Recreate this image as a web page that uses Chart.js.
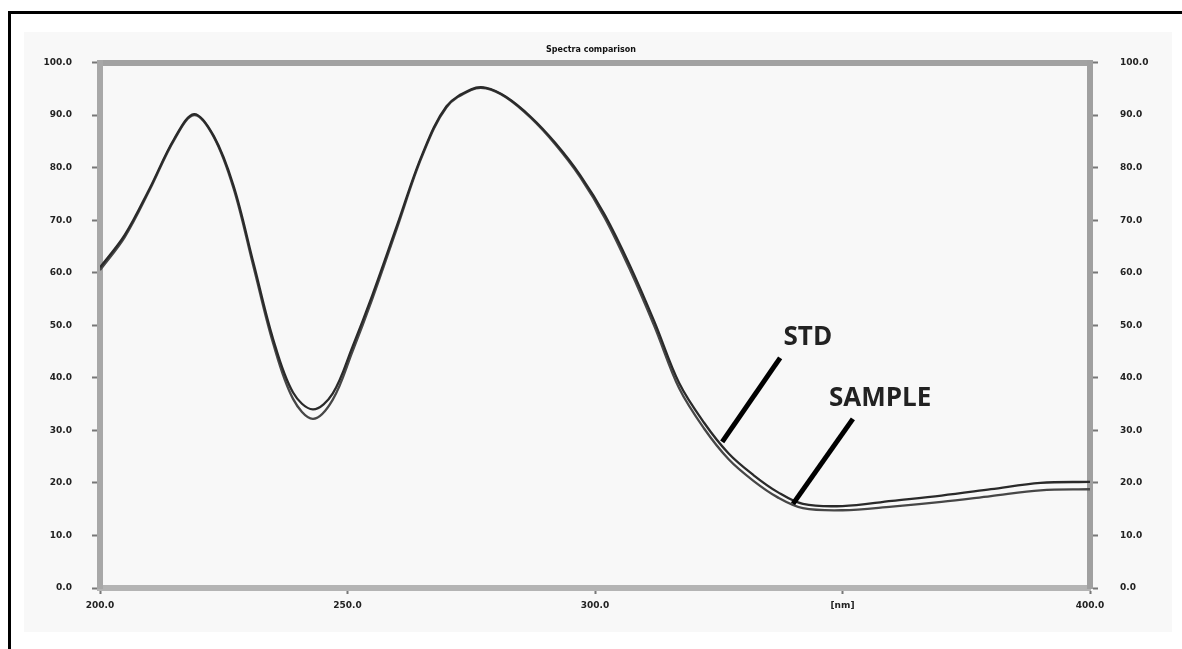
<!DOCTYPE html>
<html>
<head>
<meta charset="utf-8">
<script src="https://cdn.jsdelivr.net/npm/chart.js@4.4.1/dist/chart.umd.min.js"></script>
<style>
  html, body { margin: 0; padding: 0; background: #fff; }
  #wrap { width: 1182px; height: 649px; position: relative; }
</style>
</head>
<body>
<div id="wrap"><canvas id="specChart" width="1182" height="649"></canvas></div>
<script>
// wavelength in nm
const wavelengths = [200, 205, 210, 215, 219, 223, 227, 231, 235, 239, 243, 247, 251, 255, 260, 265, 270, 275, 278,
    282, 287, 292, 297, 302, 307, 312, 317, 322, 327, 332, 337, 342, 350, 360, 370, 380, 390, 400];
const stdValues = [61.0, 67.2, 76.0, 85.5, 90.2, 86.0, 76.5, 61.9, 47.3, 37.2, 34.0, 37.0, 45.9, 55.7, 69.0, 82.3, 91.7, 94.9, 95.2,
    93.5, 89.7, 84.7, 78.6, 71.0, 61.5, 50.7, 39.0, 31.5, 25.6, 21.5, 18.2, 16.0, 15.6, 16.6, 17.6, 18.8, 20.0, 20.2];
const sampleValues = [60.5, 66.8, 75.7, 85.3, 90.0, 85.8, 76.0, 61.2, 46.5, 36.0, 32.2, 35.8, 45.0, 55.0, 68.5, 82.0, 91.5, 94.8, 95.1,
    93.4, 89.5, 84.4, 78.2, 70.4, 60.7, 49.8, 38.0, 30.4, 24.5, 20.4, 17.2, 15.2, 14.8, 15.5, 16.4, 17.5, 18.6, 18.8];

const chartTitle = 'Spectra comparison';
const unitLabel = '[nm]';
const unitTickAt = 350;

// callouts: text position and leader line, in data units (nm, value)
const calloutNames = ['STD', 'SAMPLE'];
const calloutText = [[343.0, 47.6], [357.6, 36.0]];
const calloutFrom = [[337.4, 43.8], [352.1, 32.2]];
const calloutTo = [[325.7, 27.8], [340.0, 16.0]];

const tickFont = { family: '"DejaVu Sans"', size: 9, weight: 'bold' };

// white page, black frame and the grey panel behind the plot
const framePlugin = {
    id: 'frame',
    beforeDraw(chart) {
        const c = chart.ctx;
        c.save();
        c.fillStyle = '#ffffff';
        c.fillRect(0, 0, chart.width, chart.height);
        c.fillStyle = '#f8f8f8';
        c.fillRect(24, 32, 1148, 600);
        c.fillStyle = '#000';
        c.fillRect(8, 11, 1174, 3);
        c.fillRect(8, 11, 3, 638);
        c.restore();
    }
};

const calloutPlugin = {
    id: 'callouts',
    afterDatasetsDraw(chart) {
        const c = chart.ctx;
        const x = chart.scales.x, y = chart.scales.y;
        c.save();
        calloutNames.forEach((name, i) => {
            c.strokeStyle = '#000';
            c.lineWidth = 5;
            c.beginPath();
            c.moveTo(x.getPixelForValue(calloutFrom[i][0]), y.getPixelForValue(calloutFrom[i][1]));
            c.lineTo(x.getPixelForValue(calloutTo[i][0]), y.getPixelForValue(calloutTo[i][1]));
            c.stroke();
            c.font = 'bold 26px "Open Sans"';
            c.fillStyle = '#222';
            c.textAlign = 'center';
            c.textBaseline = 'middle';
            c.fillText(name, x.getPixelForValue(calloutText[i][0]), y.getPixelForValue(calloutText[i][1]));
        });
        c.restore();
    }
};

const ctx = document.getElementById('specChart').getContext('2d');
new Chart(ctx, {
    type: 'line',
    data: {
        datasets: [
            {
                label: 'STD',
                data: wavelengths.map((w, i) => ({ x: w, y: stdValues[i] })),
                borderColor: '#2a2a2a',
                borderWidth: 2.3,
                pointRadius: 0,
                tension: 0.35
            },
            {
                label: 'SAMPLE',
                data: wavelengths.map((w, i) => ({ x: w, y: sampleValues[i] })),
                borderColor: '#474747',
                borderWidth: 2.3,
                pointRadius: 0,
                tension: 0.35
            }
        ]
    },
    options: {
        responsive: false,
        animation: false,
        layout: { padding: 0 },
        plugins: {
            legend: { display: false },
            tooltip: { enabled: false },
            title: {
                display: true,
                text: chartTitle,
                color: '#111',
                font: { family: '"DejaVu Sans"', size: 8, weight: 'bold' },
                padding: { top: 45, bottom: 8 }
            }
        },
        scales: {
            x: {
                type: 'linear',
                position: 'bottom',
                min: 200, max: 400,
                afterFit: s => { s.height = 61; },
                border: { color: '#b4b4b4', width: 6 },
                grid: { drawOnChartArea: false, tickLength: 6, tickColor: '#777', tickWidth: 2 },
                ticks: {
                    stepSize: 50,
                    padding: 6,
                    color: '#222',
                    font: tickFont,
                    maxRotation: 0,
                    callback: v => (v === unitTickAt ? unitLabel : v.toFixed(1))
                }
            },
            xTop: {
                type: 'linear',
                position: 'top',
                min: 200, max: 400,
                afterFit: s => { s.height = 0; },
                border: { color: '#a2a2a2', width: 6 },
                grid: { drawOnChartArea: false, drawTicks: false },
                ticks: { display: false }
            },
            y: {
                position: 'left',
                min: 0, max: 100,
                afterFit: s => { s.width = 100; },
                border: { color: '#a8a8a8', width: 6 },
                grid: { drawOnChartArea: false, tickLength: 8, tickColor: '#777', tickWidth: 2 },
                ticks: { stepSize: 10, padding: 20, color: '#222', font: tickFont, callback: v => v.toFixed(1) }
            },
            y2: {
                position: 'right',
                min: 0, max: 100,
                afterFit: s => { s.width = 92; },
                border: { color: '#a0a0a0', width: 6 },
                grid: { drawOnChartArea: false, tickLength: 8, tickColor: '#777', tickWidth: 2 },
                ticks: { stepSize: 10, padding: 22, color: '#222', font: tickFont, callback: v => v.toFixed(1) }
            }
        }
    },
    plugins: [framePlugin, calloutPlugin]
});
</script>
</body>
</html>
